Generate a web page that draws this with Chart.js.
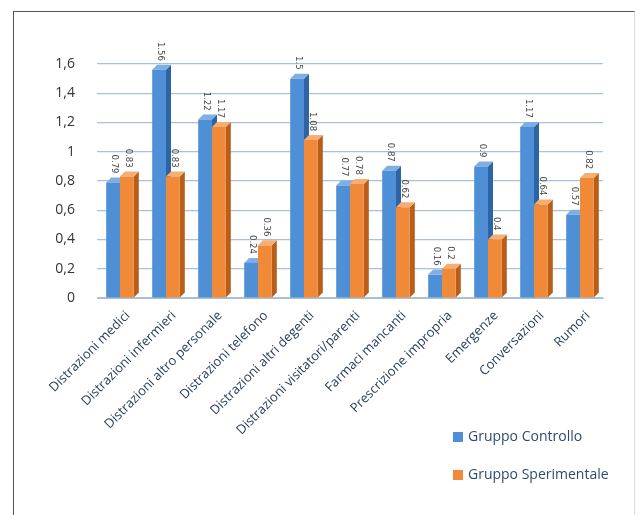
<!DOCTYPE html>
<html>
<head>
<meta charset="utf-8">
<script src="https://cdn.jsdelivr.net/npm/chart.js@4/dist/chart.umd.min.js"></script>
<style>
  html, body { margin: 0; padding: 0; background: #fff; }
  #wrap { position: relative; width: 639px; height: 515px; overflow: hidden; }
  #frame { position: absolute; left: 13px; top: 11px; width: 620px; height: 520px;
           border-top: 1.5px solid #555; border-left: 1.5px solid #555; border-right: 1px solid #ddd; }
  canvas { position: absolute; left: 0; top: 0; }
  .leg { position: absolute; left: 453px; font: 14px "Open Sans", "Liberation Sans", sans-serif;
         color: #2f4b6a; white-space: nowrap; }
  .leg span { display: inline-block; width: 10px; height: 10px; margin-right: 5px; vertical-align: -1px; }
</style>
</head>
<body>
<div id="wrap">
  <div id="frame"></div>
  <canvas id="c" width="639" height="515"></canvas>
  <div class="leg" style="top:426px"><span style="background:#4f8fd6"></span>Gruppo Controllo</div>
  <div class="leg" style="top:464px"><span style="background:#f08a38"></span>Gruppo Sperimentale</div>
</div>
<script>
const categories = [
  "Distrazioni medici", "Distrazioni infermieri", "Distrazioni altro personale",
  "Distrazioni telefono", "Distrazioni altri degenti", "Distrazioni visitatori/parenti",
  "Farmaci mancanti", "Prescrizione impropria", "Emergenze", "Conversazioni", "Rumori"
];
const controllo    = [0.79, 1.56, 1.22, 0.24, 1.5, 0.77, 0.87, 0.16, 0.9, 1.17, 0.57];
const sperimentale = [0.83, 0.83, 1.17, 0.36, 1.08, 0.78, 0.62, 0.2, 0.4, 0.64, 0.82];
const yTicks = [0, 0.2, 0.4, 0.6, 0.8, 1, 1.2, 1.4, 1.6];

const blue = "#4f8fd6", blueSide = "#2f64a4", blueTop = "#7eaee4";
const orange = "#f08a38", orangeSide = "#b85e1a", orangeTop = "#f6ae72";

// Pseudo-3D: side and top faces drawn behind each bar
const depthPlugin = {
  id: "depth",
  beforeDatasetsDraw(chart) {
    const ctx = chart.ctx;
    const d = 5;
    chart.data.datasets.forEach((ds, i) => {
      const meta = chart.getDatasetMeta(i);
      const side = i === 0 ? blueSide : orangeSide;
      const top = i === 0 ? blueTop : orangeTop;
      meta.data.forEach(bar => {
        const r = bar.x + bar.width / 2, l = bar.x - bar.width / 2;
        ctx.save();
        ctx.fillStyle = side;
        ctx.beginPath();
        ctx.moveTo(r, bar.y); ctx.lineTo(r + d, bar.y - d);
        ctx.lineTo(r + d, bar.base - d); ctx.lineTo(r, bar.base);
        ctx.closePath(); ctx.fill();
        ctx.fillStyle = top;
        ctx.beginPath();
        ctx.moveTo(l, bar.y); ctx.lineTo(l + d, bar.y - d);
        ctx.lineTo(r + d, bar.y - d); ctx.lineTo(r, bar.y);
        ctx.closePath(); ctx.fill();
        ctx.restore();
      });
    });
  },
  // vertical value labels above each bar
  afterDatasetsDraw(chart) {
    const ctx = chart.ctx;
    ctx.save();
    ctx.font = '8.5px "DejaVu Sans", sans-serif';
    ctx.fillStyle = "#444";
    ctx.textAlign = "right";
    ctx.textBaseline = "middle";
    chart.data.datasets.forEach((ds, i) => {
      const meta = chart.getDatasetMeta(i);
      meta.data.forEach((bar, j) => {
        ctx.save();
        ctx.translate(bar.x + 1, bar.y - 9);
        ctx.rotate(Math.PI / 2);
        ctx.fillText(String(ds.data[j]), 0, 0);
        ctx.restore();
      });
    });
    ctx.restore();
  }
};

new Chart(document.getElementById("c"), {
  type: "bar",
  data: {
    labels: categories,
    datasets: [
      { label: "Gruppo Controllo", data: controllo, backgroundColor: blue },
      { label: "Gruppo Sperimentale", data: sperimentale, backgroundColor: orange }
    ]
  },
  options: {
    responsive: false,
    animation: false,
    layout: { padding: { left: 0, top: 64, right: 36, bottom: 0 } },
    plugins: { legend: { display: false }, tooltip: { enabled: false } },
    datasets: { bar: { categoryPercentage: 0.6, barPercentage: 1.0 } },
    scales: {
      x: {
        grid: { display: false, drawTicks: false },
        border: { color: "#a8bfd2" },
        afterFit(s) { s.height = 217; },
        ticks: {
          color: "#2a4058",
          font: { family: '"Open Sans", "Liberation Sans", sans-serif', size: 13 },
          minRotation: 45, maxRotation: 45, padding: 10, autoSkip: false,
          labelOffset: 8
        }
      },
      y: {
        min: 0, max: 1.6,
        afterFit(s) { s.width = 97; },
        afterBuildTicks(s) { s.ticks = yTicks.map(v => ({ value: v })); },
        grid: { color: "#a8c2d8", lineWidth: 1.2, drawTicks: false },
        border: { display: false },
        ticks: {
          color: "#333",
          padding: 22,
          font: { family: '"Open Sans", "Liberation Sans", sans-serif', size: 14 },
          callback: v => String(Math.round(v * 10) / 10).replace(".", ",")
        }
      }
    }
  },
  plugins: [depthPlugin]
});
</script>
</body>
</html>
